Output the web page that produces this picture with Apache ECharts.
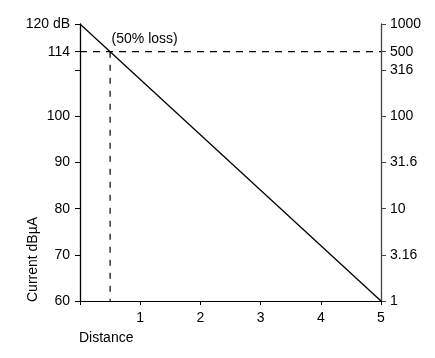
<!DOCTYPE html>
<html><head><meta charset="utf-8">
<script src="https://cdn.jsdelivr.net/npm/echarts@6/dist/echarts.min.js"></script>
<style>html,body{margin:0;padding:0;background:#fff}#c{width:435px;height:358px}</style>
</head><body><div id="c"></div>
<script>
var distance = [0, 5];
var currentDb = [120, 60];
var lossX = 0.5;
var lossDb = 114;
var lossLabel = '(50% loss)';
var leftTicks = [60, 70, 80, 90, 100, 110, 114, 120];
var leftLabels = ['60', '70', '80', '90', '100', '', '114', '120 dB'];
var rightTicks = [60, 70, 80, 90, 100, 110, 114, 120];
var rightLabels = ['1', '3.16', '10', '31.6', '100', '316', '500', '1000'];
var xTicks = [0, 1, 2, 3, 4, 5];
var xLabels = ['', '1', '2', '3', '4', '5'];

var FONT = 'Liberation Sans, Arial, Helvetica, sans-serif';
var chart = echarts.init(document.getElementById('c'));
function mk(ticks, labels){ return function(v){ var i = ticks.indexOf(Math.round(v*1000)/1000); return i>=0 ? labels[i] : ''; }; }
chart.setOption({
  animation: false,
  grid: {left: 80, right: 54, top: 24, bottom: 57},
  xAxis: {
    type: 'value', min: 0, max: 5, interval: 1,
    axisLine: {lineStyle: {color: '#000', width: 1}},
    axisTick: {show: true, length: 4, lineStyle: {color: '#000'}},
    axisLabel: {color: '#000', fontSize: 14, fontFamily: FONT, margin: 10, formatter: mk(xTicks, xLabels)},
    splitLine: {show: false}
  },
  yAxis: [{
    type: 'value', min: 60, max: 120, position: 'left',
    axisLine: {show: true, lineStyle: {color: '#000', width: 1.3}},
    axisTick: {show: true, length: 5, customValues: leftTicks, lineStyle: {color: '#000'}},
    axisLabel: {color: '#000', fontSize: 14, fontFamily: FONT, margin: 10, customValues: leftTicks, formatter: mk(leftTicks, leftLabels)},
    splitLine: {show: false}
  }, {
    type: 'value', min: 60, max: 120, position: 'right',
    axisLine: {show: true, lineStyle: {color: '#444', width: 1.3}},
    axisTick: {show: true, length: 5, customValues: rightTicks, lineStyle: {color: '#444'}},
    axisLabel: {color: '#000', fontSize: 14, fontFamily: FONT, margin: 9, customValues: rightTicks, formatter: mk(rightTicks, rightLabels)},
    splitLine: {show: false}
  }],
  graphic: [
    {type: 'text', left: 79, top: 331, style: {text: 'Distance', fill: '#000', font: '14px ' + FONT}},
    {type: 'text', x: 26, y: 302, rotation: Math.PI/2, style: {text: 'Current dB\u00b5A', fill: '#000', font: '14px ' + FONT}}
  ],
  series: [{
    type: 'line', symbol: 'none', silent: true,
    data: distance.map(function(d, i){ return [d, currentDb[i]]; }),
    lineStyle: {color: '#000', width: 1.3}
  }, {
    type: 'line', symbol: 'none', silent: true,
    data: [[distance[0], lossDb], [distance[1], lossDb]],
    lineStyle: {color: '#000', width: 1.2, type: [7, 6]},
    markPoint: {
      symbol: 'circle', symbolSize: 1, silent: true,
      itemStyle: {color: 'rgba(0,0,0,0)'},
      label: {show: true, formatter: lossLabel, color: '#000', fontSize: 14, fontFamily: FONT, position: [2, -19], align: 'left', verticalAlign: 'top'},
      data: [{coord: [lossX, lossDb]}]
    }
  }, {
    type: 'line', symbol: 'none', silent: true,
    data: [[lossX, lossDb], [lossX, currentDb[1]]],
    lineStyle: {color: '#000', width: 1.2, type: [6, 7]}
  }]
});
</script></body></html>
